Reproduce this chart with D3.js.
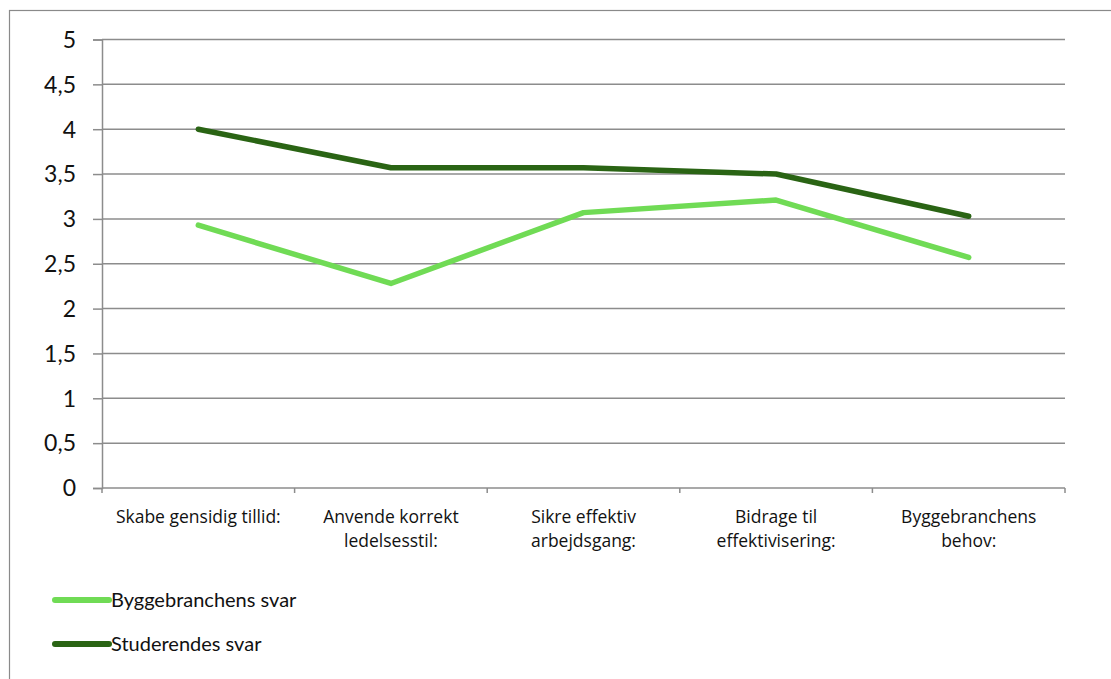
<!DOCTYPE html>
<html><head><meta charset="utf-8">
<script src="https://cdn.jsdelivr.net/npm/d3@7"></script>
<style>body{margin:0;background:#fff;}svg{display:block;font-family:Lato,"Open Sans",sans-serif;}</style>
</head><body>
<script>
const categories = [["Skabe gensidig tillid:"],["Anvende korrekt","ledelsesstil:"],["Sikre effektiv","arbejdsgang:"],["Bidrage til","effektivisering:"],["Byggebranchens","behov:"]];
const seriesNames = ["Byggebranchens svar","Studerendes svar"];
const byggeValues = [2.93, 2.28, 3.07, 3.21, 2.57];
const studValues = [4.0, 3.57, 3.57, 3.5, 3.03];
const yTicks = [0,0.5,1,1.5,2,2.5,3,3.5,4,4.5,5];
const colors = ["#70DB55","#2A6414"];

(function(){
const W=1111,H=679;
const svg=d3.select("body").append("svg").attr("width",W).attr("height",H);
svg.append("rect").attr("x",9.5).attr("y",10.5).attr("width",1200).attr("height",800).attr("fill","none").attr("stroke","#8a8a8a").attr("stroke-width",1.2);

const pLeft=102,pRight=1065,pTop=39.5,pBottom=488;
const x=d3.scaleBand().domain(d3.range(categories.length)).range([pLeft,pRight]);
const y=d3.scaleLinear().domain([0,5]).range([pBottom,pTop]);
const fmt=d=>String(d).replace(".",",");

svg.append("g").selectAll("line").data(yTicks.filter(d=>d>0)).join("line")
 .attr("x1",pLeft).attr("x2",pRight).attr("y1",d=>y(d)).attr("y2",d=>y(d))
 .attr("stroke","#8c8c8c").attr("stroke-width",1.5);

const ya=svg.append("g").attr("transform",`translate(${pLeft},0)`)
 .call(d3.axisLeft(y).tickValues(yTicks).tickFormat(fmt).tickSize(9).tickPadding(17));
ya.attr("font-family",null);
ya.select(".domain").attr("stroke","#8c8c8c").attr("stroke-width",1.5);
ya.selectAll(".tick line").attr("stroke","#8c8c8c").attr("stroke-width",1.5);
ya.selectAll("text").attr("font-size",23).attr("fill","#111").attr("dy","0.34em");

const xa=svg.append("g").attr("transform",`translate(0,${pBottom})`);
xa.append("line").attr("x1",pLeft).attr("x2",pRight).attr("stroke","#8c8c8c").attr("stroke-width",1.5);
xa.selectAll("line.t").data(d3.range(categories.length+1)).join("line").attr("class","t")
 .attr("x1",i=>pLeft+i*x.step()).attr("x2",i=>pLeft+i*x.step()).attr("y1",0).attr("y2",5)
 .attr("stroke","#8c8c8c").attr("stroke-width",1.5);
const xl=xa.selectAll("text").data(categories).join("text")
 .attr("text-anchor","middle").attr("font-size",17.5).attr("font-family","'Open Sans',sans-serif").attr("fill","#111")
 .attr("transform",(d,i)=>`translate(${x(i)+x.bandwidth()/2},0)`);
xl.selectAll("tspan").data(d=>d).join("tspan").attr("x",0).attr("y",(d,j)=>35+j*24).text(d=>d);

const line=d3.line().x((d,i)=>x(i)+x.bandwidth()/2).y(d=>y(d));
[byggeValues,studValues].forEach((vals,k)=>{
 svg.append("path").datum(vals).attr("d",line).attr("fill","none")
  .attr("stroke",colors[k]).attr("stroke-width",5.5).attr("stroke-linecap","round").attr("stroke-linejoin","round");
});

seriesNames.forEach((n,k)=>{
 const ly=600+k*44;
 svg.append("line").attr("x1",55).attr("x2",109).attr("y1",ly).attr("y2",ly)
  .attr("stroke",colors[k]).attr("stroke-width",6).attr("stroke-linecap","round");
 svg.append("text").attr("x",111).attr("y",ly+7).attr("font-size",20).attr("fill","#111").text(n);
});
})();
</script>
</body></html>
